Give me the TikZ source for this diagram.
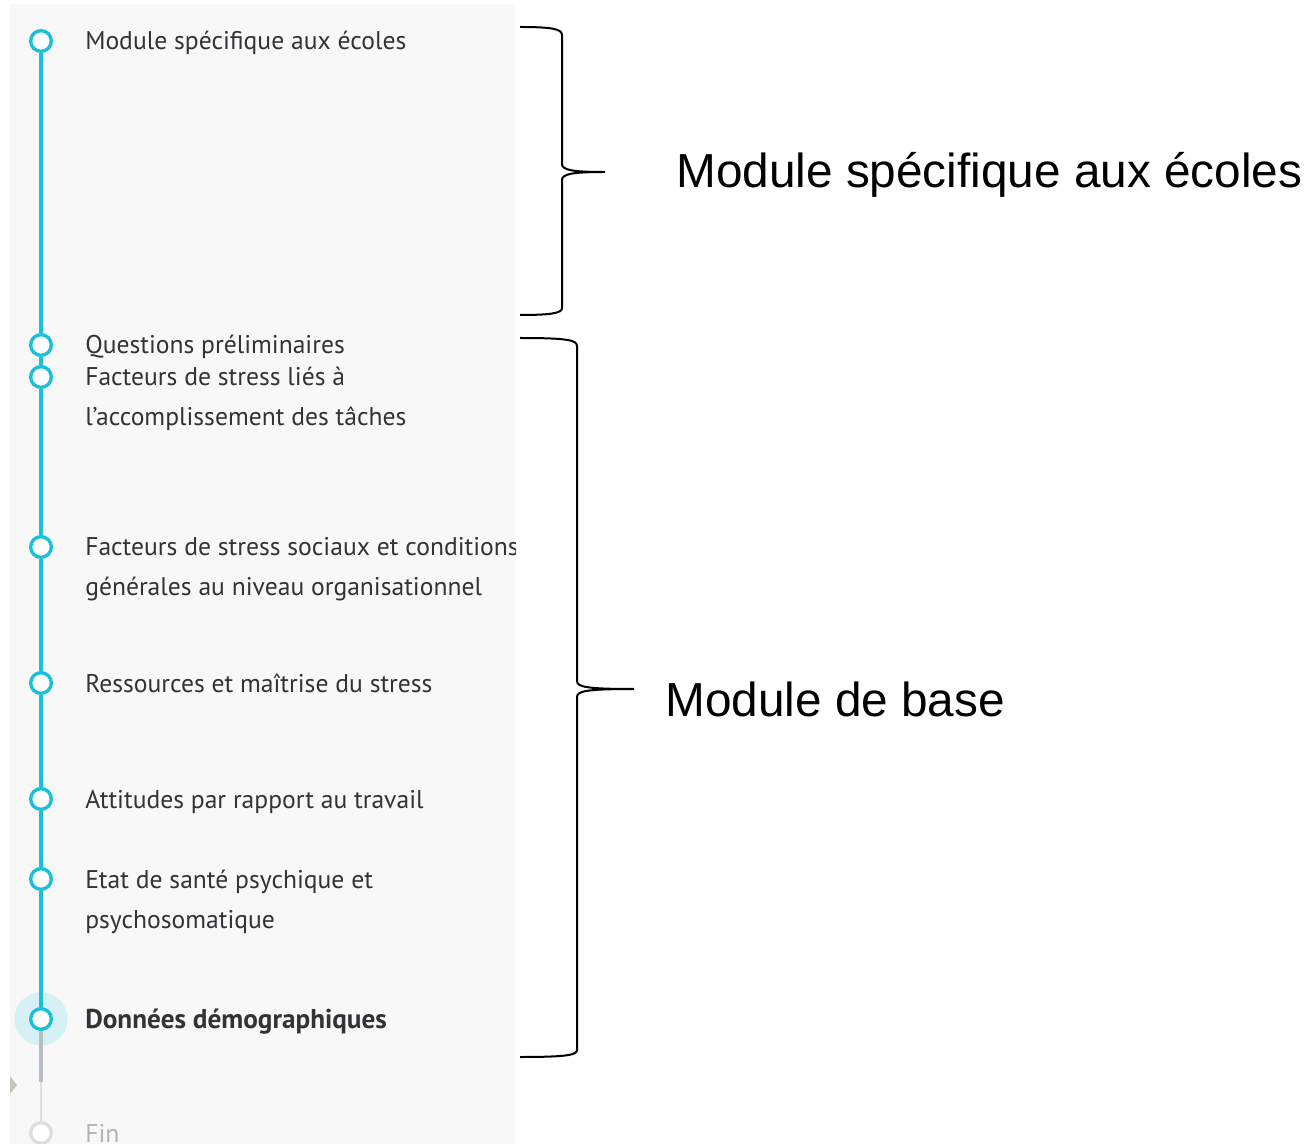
\documentclass[tikz,border=0pt]{standalone}
\usepackage{fontspec}
\setmainfont{PT Sans}
\newfontfamily\arialfont{Liberation Sans}
\usetikzlibrary{positioning}
\definecolor{tlcyan}{RGB}{26,192,218}
\definecolor{tlhalo}{RGB}{214,241,246}
\definecolor{tlgrey}{RGB}{184,188,196}
\definecolor{tllight}{RGB}{220,222,226}
\definecolor{panelbg}{RGB}{248,248,248}
\definecolor{txtgrey}{RGB}{50,50,56}
\definecolor{fingrey}{RGB}{176,180,186}

\begin{document}
\begin{tikzpicture}[x=0.75pt,y=-0.75pt,
  stepdot/.style={circle,draw=tlcyan,line width=2.5pt,fill=white,minimum size=15.5pt,inner sep=0pt},
  findot/.style={stepdot,draw=tllight},
  halo/.style={circle,fill=tlhalo,minimum size=40pt,inner sep=0pt},
  timeline/.style={tlcyan,line width=3.5pt},
  itemtext/.style={anchor=base west,inner sep=0pt,text=txtgrey,font=\fontsize{19.2}{22}\selectfont},
  bracelabel/.style={anchor=base west,inner sep=0pt,text=black,font=\arialfont\fontsize{35.8}{40}\selectfont},
  brace/.style={black,line width=1.5pt}]
  \useasboundingbox (0,0) rectangle (1307,1144);
  \fill[panelbg] (10,4) rectangle (515,1144);
  \begin{scope}
    \clip (10,4) rectangle (515,1144);
    \node[halo] (h8) at (41,1019) {};
    \node[stepdot] (s1) at (41,41) {};
    \node[stepdot] (s2) at (41,345) {};
    \node[stepdot] (s3) at (41,377) {};
    \node[stepdot] (s4) at (41,547) {};
    \node[stepdot] (s5) at (41,683) {};
    \node[stepdot] (s6) at (41,799) {};
    \node[stepdot] (s7) at (41,879) {};
    \node[stepdot] (s8) at (41,1019) {};
    \node[findot] (fin) at (41,1133) {};
    \coordinate (g1) at (41,1082);
    \draw[timeline] (s1) -- (s2);
    \draw[timeline] (s2) -- (s3);
    \draw[timeline] (s3) -- (s4);
    \draw[timeline] (s4) -- (s5);
    \draw[timeline] (s5) -- (s6);
    \draw[timeline] (s6) -- (s7);
    \draw[timeline] (s7) -- (s8);
    \draw[tlgrey,line width=3.5pt] (s8) -- (g1);
    \draw[tllight,line width=1.5pt] (g1) -- (fin);
    \fill[black!15!panelbg!85!olive] (10,1076) -- (17,1085) -- (10,1094) -- cycle;
    \node[itemtext] (t1) at (85,50) {Module spécifique aux écoles};
    \node[itemtext] (t2) at (85,354) {Questions préliminaires};
    \node[itemtext] (t3) at (85,386) {Facteurs de stress liés à};
    \node[itemtext] (t3b) at (85,426) {l'accomplissement des tâches};
    \node[itemtext] (t4) at (85,556) {Facteurs de stress sociaux et conditions};
    \node[itemtext] (t4b) at (85,596) {générales au niveau organisationnel};
    \node[itemtext] (t5) at (85,692) {Ressources et maîtrise du stress};
    \node[itemtext] (t6) at (85,808) {Attitudes par rapport au travail};
    \node[itemtext] (t7) at (85,888) {Etat de santé psychique et};
    \node[itemtext] (t7b) at (85,928) {psychosomatique};
    \node[itemtext,font=\bfseries\fontsize{20.4}{22}\selectfont] (t8) at (85,1028) {Données démographiques};
    \node[itemtext,text=fingrey] (t9) at (85,1142) {Fin};
  \end{scope}
  \coordinate (b1top) at (520,27);
  \coordinate (b1tip) at (605,172);
  \coordinate (b1bot) at (520,315);
  \coordinate (b2top) at (520,338);
  \coordinate (b2tip) at (634,689);
  \coordinate (b2bot) at (520,1057);
  \draw[brace] (b1top) .. controls (552,27) and (562,29) .. (562,35) -- (562,164)
    .. controls (562,170) and (572,172) .. (b1tip)
    .. controls (572,172) and (562,174) .. (562,180) -- (562,308)
    .. controls (562,313) and (552,315) .. (b1bot);
  \draw[brace] (b2top) .. controls (567,338) and (577,340) .. (577,346) -- (577,681)
    .. controls (577,687) and (587,689) .. (b2tip)
    .. controls (587,689) and (577,691) .. (577,697) -- (577,1050)
    .. controls (577,1055) and (567,1057) .. (b2bot);
  \node[bracelabel] (l1) at (676,188) {Module spécifique aux écoles};
  \node[bracelabel] (l2) at (665,716) {Module de base};
\end{tikzpicture}
\end{document}
